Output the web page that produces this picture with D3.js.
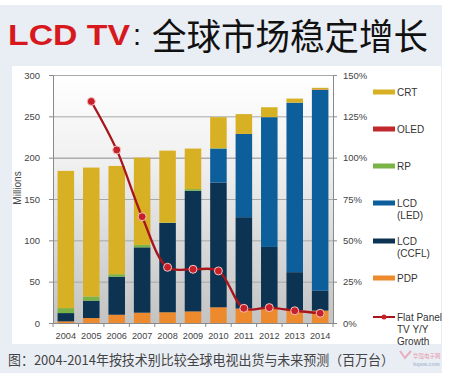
<!DOCTYPE html>
<html><head><meta charset="utf-8">
<script src="https://cdn.jsdelivr.net/npm/d3@7"></script>
<style>body{margin:0;background:#fff;}svg{display:block;}</style>
</head><body>
<svg id="c" width="469" height="375"></svg>
<script>
const years = ["2004","2005","2006","2007","2008","2009","2010","2011","2012","2013","2014"];
const pdp  = [2, 6, 10, 12.5, 13, 14, 19, 17.5, 18, 15.5, 15];
const ccfl = [10, 21, 46, 79, 108, 146, 151, 110.5, 74, 46, 24];
const led  = [0, 0, 0, 0, 0, 0, 41, 100.7, 157, 205, 243];
const rp   = [6, 5, 3, 3, 0.5, 2, 0.5, 0, 0, 0, 0];
const oled = [0, 0, 0, 0, 0, 0, 0, 0, 0, 0, 0.5];
const crt  = [166, 156, 131, 105.5, 87, 49, 37.5, 24, 12, 5, 2];
const growth = [null, 134, 104.7, 64.3, 33.7, 32.5, 31.5, 8.9, 9.3, 7.4, 5.9];
const leftTicks = [0, 50, 100, 150, 200, 250, 300];
const rightTicks = [0, 25, 50, 75, 100, 125, 150];

const seriesDefs = [
  {key:"PDP", vals:pdp, color:"#ee8a2e", label:["PDP"]},
  {key:"CCFL", vals:ccfl, color:"#0c3352", label:["LCD","(CCFL)"]},
  {key:"LED", vals:led, color:"#0d5f9b", label:["LCD","(LED)"]},
  {key:"RP", vals:rp, color:"#7bb446", label:["RP"]},
  {key:"OLED", vals:oled, color:"#c1272d", label:["OLED"]},
  {key:"CRT", vals:crt, color:"#d8b024", label:["CRT"]}
];

const svg = d3.select("#c");
svg.append("rect").attr("x",0).attr("y",5).attr("width",442).attr("height",368).attr("fill","#e9edf4");
svg.append("rect").attr("x",12).attr("y",66).attr("width",429).attr("height",278).attr("fill","#ffffff");

// title
svg.append("text").attr("x",8).attr("y",45).attr("font-family","Liberation Sans, Arial, sans-serif")
  .attr("font-weight","bold").attr("font-size",29).attr("fill","#d7191e")
  .attr("textLength",122).attr("lengthAdjust","spacingAndGlyphs").text("LCD TV");
svg.append("text").attr("x",133).attr("y",45).attr("font-family","Liberation Sans, Arial, sans-serif")
  .attr("font-size",29).attr("fill","#111").text(":");
svg.append("text").attr("x",152).attr("y",50).attr("font-family","Noto Sans CJK SC, sans-serif")
  .attr("font-size",36).attr("fill","#111").attr("textLength",276).attr("lengthAdjust","spacingAndGlyphs")
  .text("全球市场稳定增长");

const L=53, R=333, T=75, B=323;
const x = d3.scaleBand().domain(years).range([L,R]).paddingInner(0.35).paddingOuter(0.18);
const y = d3.scaleLinear().domain([0,300]).range([B,T]);
const y2 = d3.scaleLinear().domain([0,150]).range([B,T]);

const defs = svg.append("defs");
const g = defs.append("linearGradient").attr("id","bg").attr("x1",0).attr("y1",0).attr("x2",0).attr("y2",1);
g.append("stop").attr("offset","0%").attr("stop-color","#ffffff");
g.append("stop").attr("offset","35%").attr("stop-color","#f0f0f0");
g.append("stop").attr("offset","100%").attr("stop-color","#c3c3c3");
svg.append("rect").attr("x",L).attr("y",T).attr("width",R-L).attr("height",B-T).attr("fill","url(#bg)");

svg.append("g").selectAll("line").data(leftTicks.filter(d=>d>0)).join("line")
  .attr("x1",L).attr("x2",R).attr("y1",d=>y(d)+0.5).attr("y2",d=>y(d)+0.5)
  .attr("stroke",d=>d===200?"#8a8a8a":"#a8a8a8").attr("stroke-width",1);

const rows = years.map((yr,i)=>{const o={year:yr}; seriesDefs.forEach(s=>o[s.key]=s.vals[i]); return o;});
const stack = d3.stack().keys(seriesDefs.map(s=>s.key))(rows);
stack.forEach((layer,li)=>{
  svg.append("g").selectAll("rect").data(layer).join("rect")
    .attr("x",d=>x(d.data.year)).attr("width",x.bandwidth())
    .attr("y",d=>y(d[1])).attr("height",d=>Math.max(0,y(d[0])-y(d[1])))
    .attr("fill",seriesDefs[li].color);
});

const fontAx = "Liberation Sans, Arial, sans-serif";
const axL = svg.append("g").attr("transform",`translate(${L},0)`)
  .call(d3.axisLeft(y).tickValues(leftTicks).tickSize(4).tickPadding(9));
const axR = svg.append("g").attr("transform",`translate(${R},0)`)
  .call(d3.axisRight(y2).tickValues(rightTicks).tickSize(4).tickPadding(6).tickFormat(d=>d+"%"));
const axB = svg.append("g").attr("transform",`translate(0,${B})`)
  .call(d3.axisBottom(x).tickSize(0).tickPadding(9));
svg.append("g").selectAll("line").data(d3.range(years.length+1)).join("line")
  .attr("x1",i=>L+i*(R-L)/years.length).attr("x2",i=>L+i*(R-L)/years.length)
  .attr("y1",B).attr("y2",B+4).attr("stroke","#8a8a8a");
[axL,axR,axB].forEach(a=>{
  a.selectAll("path").attr("stroke","#8a8a8a");
  a.selectAll(".tick line").attr("stroke","#8a8a8a");
  a.selectAll("text").attr("font-family",fontAx).attr("font-size",9.5).attr("fill","#444");
});
axB.selectAll("text").attr("font-size",9.2);

svg.append("text").attr("transform","translate(21,188) rotate(-90)").attr("text-anchor","middle")
  .attr("font-family",fontAx).attr("font-size",10).attr("fill","#444").text("Millions");

const pts = years.map((yr,i)=>({year:yr,v:growth[i]})).filter(d=>d.v!==null);
const line = d3.line().x(d=>x(d.year)+x.bandwidth()/2).y(d=>y2(d.v)).curve(d3.curveCatmullRom.alpha(0.5));
svg.append("path").datum(pts).attr("d",line).attr("fill","none").attr("stroke","#a8141c").attr("stroke-width",2.3);
svg.append("g").selectAll("circle").data(pts).join("circle")
  .attr("cx",d=>x(d.year)+x.bandwidth()/2).attr("cy",d=>y2(d.v)).attr("r",4)
  .attr("fill","#c8202a").attr("stroke","#f3c6c6").attr("stroke-width",1);

const lg = svg.append("g");
const legItems = [
  {s:seriesDefs[5], y:92},{s:seriesDefs[4], y:129},{s:seriesDefs[3], y:166},
  {s:seriesDefs[2], y:203},{s:seriesDefs[1], y:241},{s:seriesDefs[0], y:278}
];
legItems.forEach(it=>{
  lg.append("rect").attr("x",373).attr("y",it.y-2.5).attr("width",22).attr("height",5).attr("fill",it.s.color);
  it.s.label.forEach((t,k)=>{
    lg.append("text").attr("x",397).attr("y",it.y+3.5+k*12).attr("font-family",fontAx)
      .attr("font-size",10).attr("fill","#333").text(t);
  });
});
lg.append("line").attr("x1",373).attr("x2",395).attr("y1",317).attr("y2",317).attr("stroke","#a8141c").attr("stroke-width",2);
lg.append("circle").attr("cx",384).attr("cy",317).attr("r",2.5).attr("fill","#c8202a");
["Flat Panel","TV Y/Y","Growth"].forEach((t,k)=>{
  lg.append("text").attr("x",397).attr("y",320.5+k*12).attr("font-family",fontAx)
    .attr("font-size",10).attr("fill","#333").text(t);
});

svg.append("text").attr("x",8).attr("y",365).attr("font-family","Noto Sans CJK SC, sans-serif")
  .attr("font-size",13.5).attr("fill","#444").attr("textLength",386).attr("lengthAdjust","spacingAndGlyphs")
  .text("图：2004-2014年按技术别比较全球电视出货与未来预测（百万台）");
// watermark (kept clear of other texts)
svg.append("path").attr("d","M400,351 L405,358 L411,351").attr("fill","none").attr("stroke","#e8607a")
  .attr("stroke-width",2).attr("opacity",0.45);
svg.append("text").attr("x",413).attr("y",358).attr("font-family","Noto Sans CJK SC, sans-serif")
  .attr("font-size",5.5).attr("fill","#e8607a").attr("opacity",0.6).text("华强电子网");
svg.append("text").attr("x",413).attr("y",366).attr("font-family",fontAx)
  .attr("font-size",5.5).attr("font-weight","bold").attr("fill","#8aa0c0").attr("opacity",0.6).text("hqew.com");
</script>
</body></html>
